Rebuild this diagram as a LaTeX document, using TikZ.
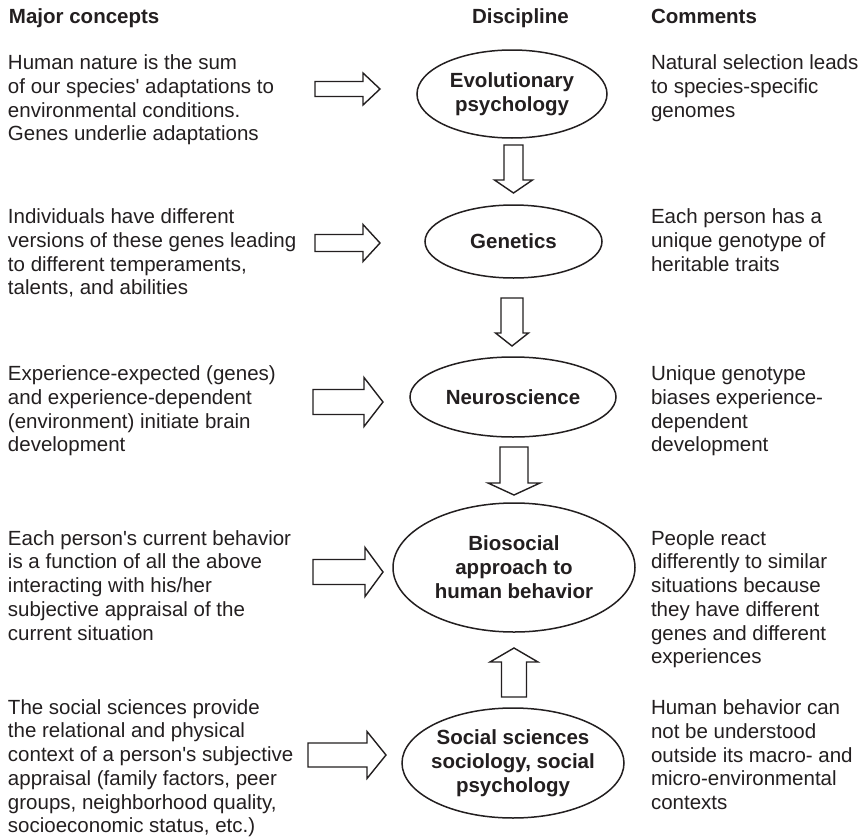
\documentclass[tikz,border=0pt]{standalone}
\usepackage{fontspec}
\setmainfont{Liberation Sans}[Ligatures=TeXOff]
\usetikzlibrary{shapes.geometric,calc}
\definecolor{ink}{HTML}{231F20}

% a top-aligned block of explicitly broken lines
\newcommand{\colpar}[2]{\parbox[t]{#1}{\raggedright #2}}

\begin{document}
\begin{tikzpicture}[x=1pt,y=-1pt,
  every node/.style={inner sep=0pt,outer sep=0pt,text=ink},
  body/.style={anchor=base west,font=\fontsize{20.5}{23.75}\selectfont},
  head/.style={anchor=base west,font=\bfseries\fontsize{20.5}{24}\selectfont},
  disc/.style={ellipse,draw=ink,line width=1.5pt,align=center,
    inner xsep=-4pt,font=\bfseries\fontsize{20.5}{24}\selectfont},
  % hollow block arrow: #1 half shaft width, #2 half head width, #3 head length
  barrow/.style n args={3}{draw=ink,fill=white,line width=1.4pt,line join=miter,
    to path={
      ($(\tikztostart)!#1!90:(\tikztotarget)$)
      -- ($($(\tikztotarget)!#3!(\tikztostart)$)!#1!90:(\tikztotarget)$)
      -- ($($(\tikztotarget)!#3!(\tikztostart)$)!#2!90:(\tikztotarget)$)
      -- (\tikztotarget)
      -- ($($(\tikztotarget)!#3!(\tikztostart)$)!#2!-90:(\tikztotarget)$)
      -- ($($(\tikztotarget)!#3!(\tikztostart)$)!#1!-90:(\tikztotarget)$)
      -- ($(\tikztostart)!#1!-90:(\tikztotarget)$)
      -- cycle}}
]
\useasboundingbox[fill=white] (0,0) rectangle (860,838);

% column headings
\node[head] (hmajor) at (9,23.5) {Major concepts};
\node[head] (hdisc) at (472,23.5) {Discipline};
\node[head] (hcom) at (651,23.5) {Comments};

% disciplines
\node[disc,minimum width=190pt,minimum height=88pt] (evo) at (512,94) {Evolutionary\\psychology};
\node[disc,minimum width=177pt,minimum height=73pt] (gen) at (513.5,241.5) {Genetics};
\node[disc,minimum width=206pt,minimum height=80pt] (neu) at (513,397) {Neuroscience};
\node[disc,minimum width=242pt,minimum height=129pt] (bio) at (514,567.5) {Biosocial\\approach to\\human behavior};
\node[disc,minimum width=222pt,minimum height=110pt] (soc) at (513,763) {Social sciences\\sociology, social\\psychology};

% major concepts
\node[body] (c1) at (8,69.5) {\colpar{340pt}{Human nature is the sum\\of our species' adaptations to\\environmental conditions.\\Genes underlie adaptations}};
\node[body] (c2) at (8,223.5) {\colpar{340pt}{Individuals have different\\versions of these genes leading\\to different temperaments,\\talents, and abilities}};
\node[body] (c3) at (8,380.5) {\colpar{340pt}{Experience-expected (genes)\\and experience-dependent\\(environment) initiate brain\\development}};
\node[body] (c4) at (8,545) {\colpar{340pt}{Each person's current behavior\\is a function of all the above\\interacting with his/her\\subjective appraisal of the\\current situation}};
\node[body] (c5) at (8,714) {\colpar{340pt}{The social sciences provide\\the relational and physical\\context of a person's subjective\\appraisal (family factors, peer\\groups, neighborhood quality,\\socioeconomic status, etc.)}};

% comments
\node[body] (m1) at (651,69.5) {\colpar{300pt}{Natural selection leads\\to species-specific\\genomes}};
\node[body] (m2) at (651,223.5) {\colpar{300pt}{Each person has a\\unique genotype of\\heritable traits}};
\node[body] (m3) at (651,380.5) {\colpar{300pt}{Unique genotype\\biases experience-\\dependent\\development}};
\node[body] (m4) at (651,545) {\colpar{300pt}{People react\\differently to similar\\situations because\\they have different\\genes and different\\experiences}};
\node[body] (m5) at (651,714.5) {\colpar{300pt}{Human behavior can\\not be understood\\outside its macro- and\\micro-environmental\\contexts}};

% arrow end points
\coordinate (h1a) at (315,89);  \coordinate (h1b) at (380,89);
\coordinate (h2a) at (315,243); \coordinate (h2b) at (380,243);
\coordinate (h3a) at (313,402); \coordinate (h3b) at (383,402);
\coordinate (h4a) at (313,572); \coordinate (h4b) at (383,572);
\coordinate (h5a) at (308,755); \coordinate (h5b) at (386,755);
\coordinate (v1a) at (513.5,145); \coordinate (v1b) at (513.5,193);
\coordinate (v2a) at (512,298);   \coordinate (v2b) at (512,346);
\coordinate (v3a) at (514,447);   \coordinate (v3b) at (514,495);
\coordinate (v4a) at (514,697);   \coordinate (v4b) at (514,648);

% concepts feeding each discipline
\draw[barrow={7.5pt}{16pt}{17pt}] (h1a) to (h1b);
\draw[barrow={8.5pt}{18.5pt}{17pt}] (h2a) to (h2b);
\draw[barrow={12.5pt}{24.5pt}{19pt}] (h3a) to (h3b);
\draw[barrow={12.5pt}{24.5pt}{18pt}] (h4a) to (h4b);
\draw[barrow={12pt}{23.5pt}{19pt}] (h5a) to (h5b);

% flow between disciplines
\draw[barrow={9.5pt}{19pt}{13pt}] (v1a) to (v1b);
\draw[barrow={11pt}{16.5pt}{13pt}] (v2a) to (v2b);
\draw[barrow={14pt}{26pt}{12pt}] (v3a) to (v3b);
\draw[barrow={12.5pt}{24pt}{14pt}] (v4a) to (v4b);
\end{tikzpicture}
\end{document}
